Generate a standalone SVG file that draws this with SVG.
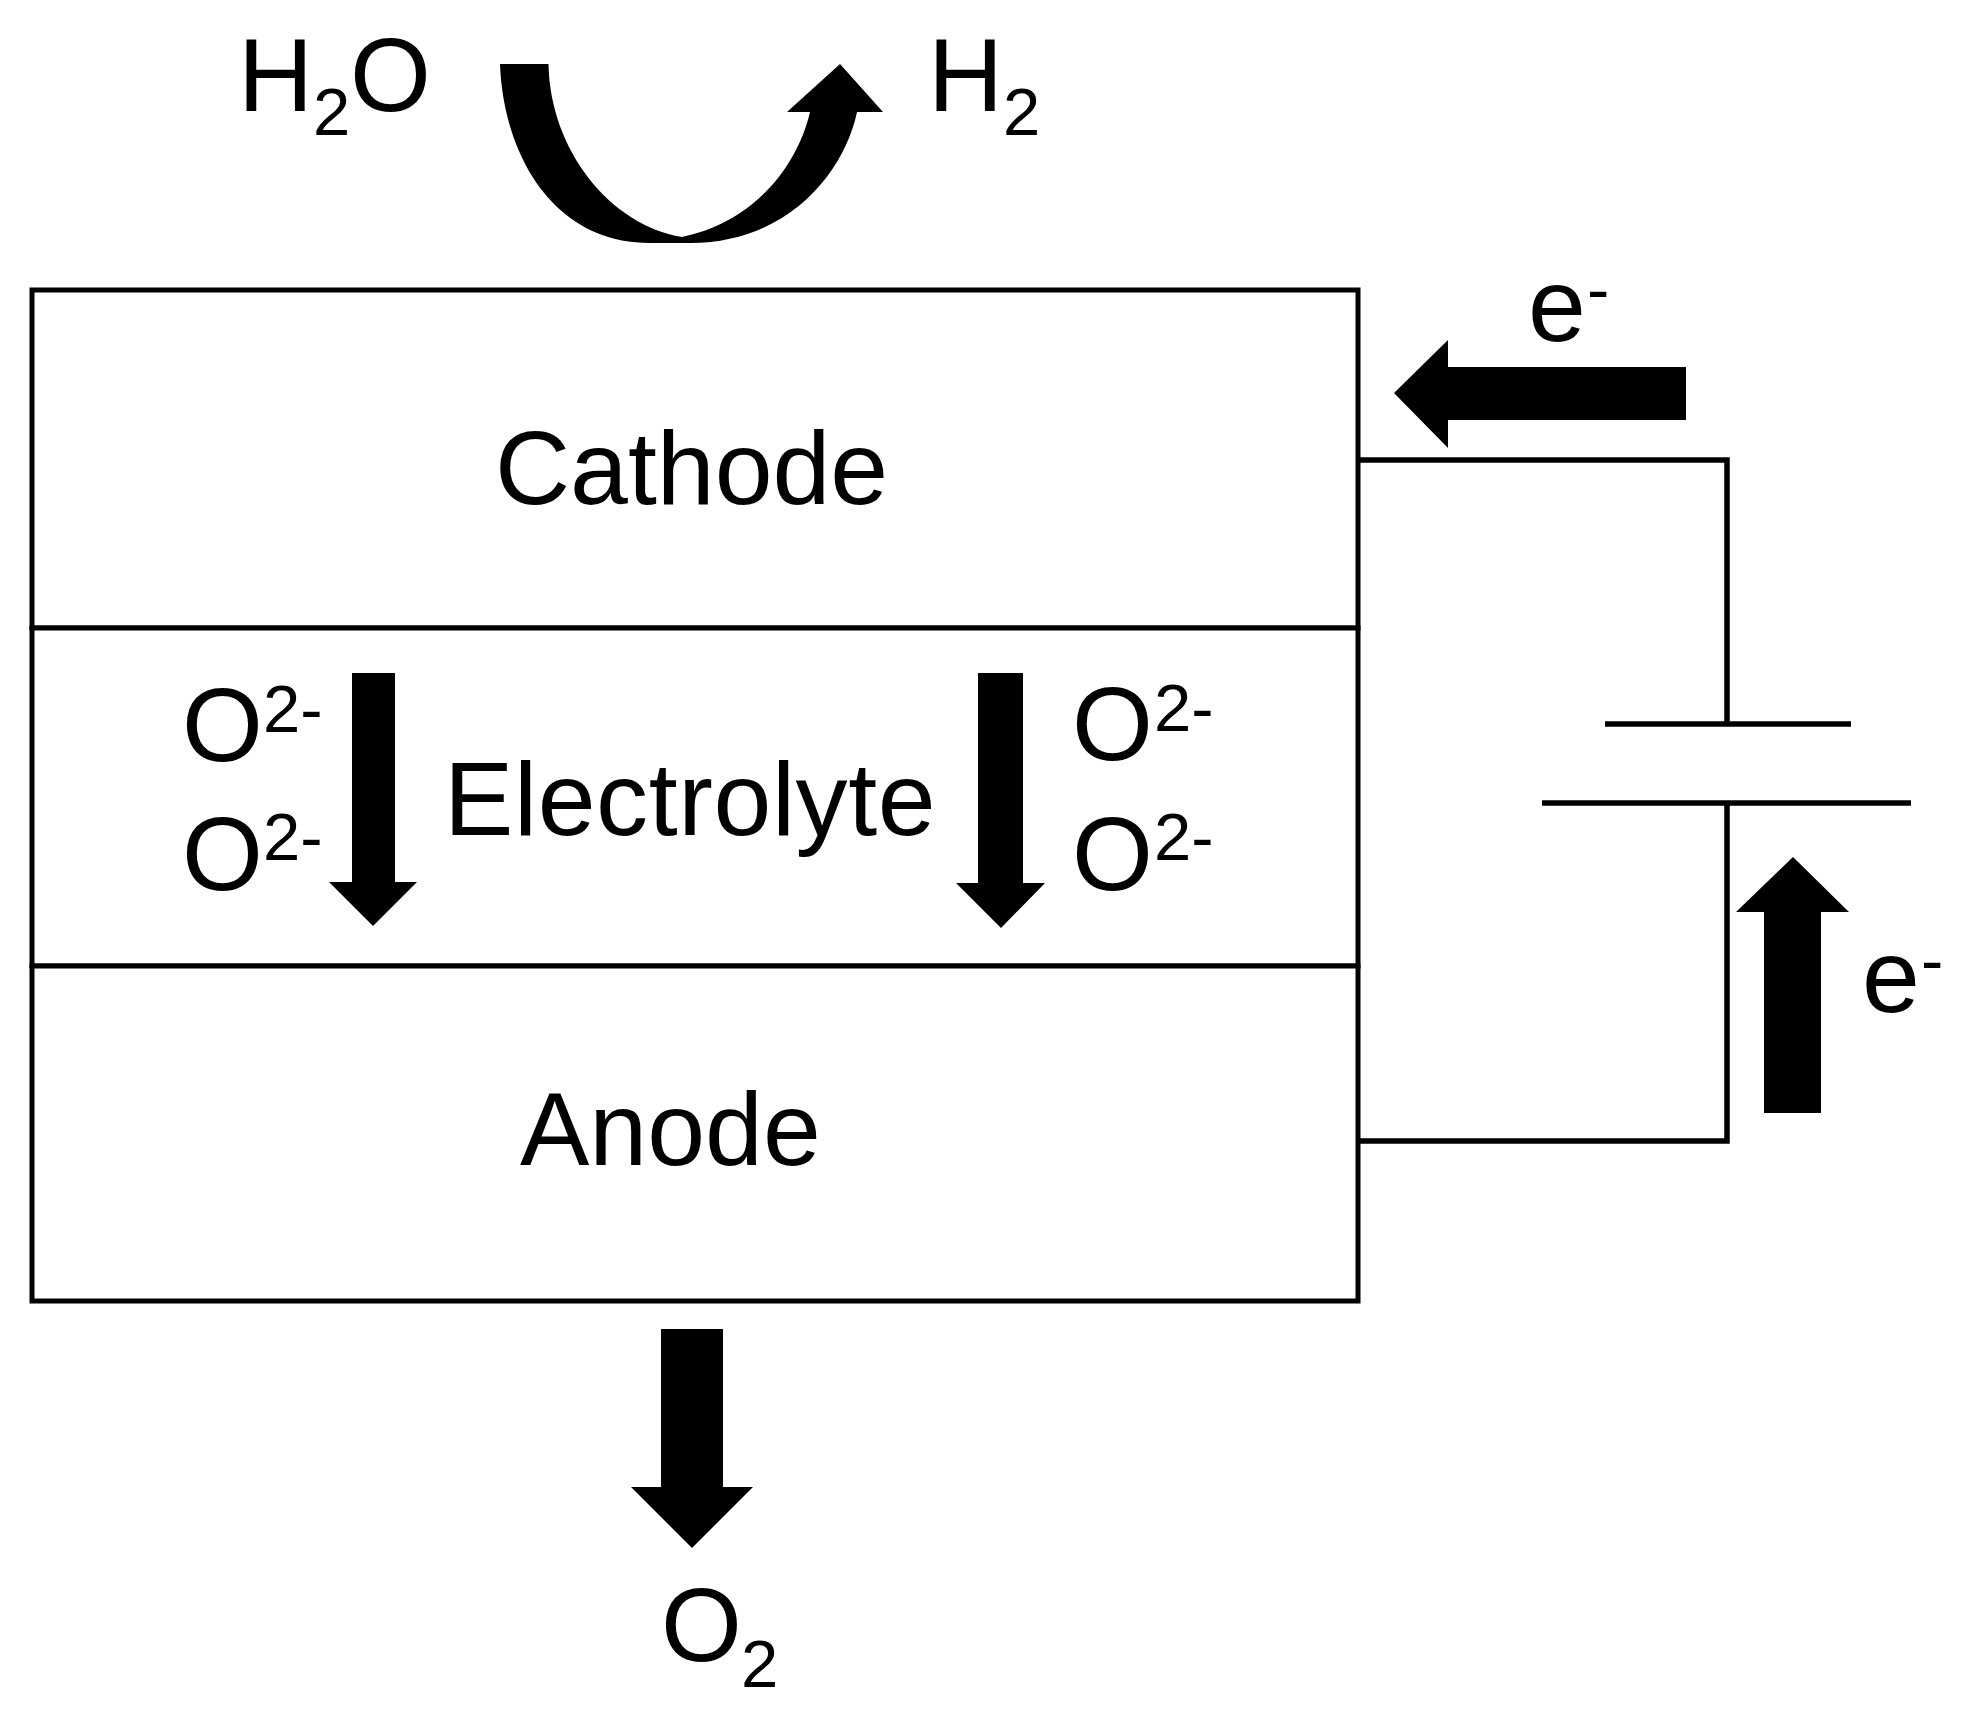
<svg xmlns="http://www.w3.org/2000/svg" width="1975" height="1726" viewBox="0 0 1975 1726">
<style>
text{font-family:"Liberation Sans",Arial,sans-serif;font-size:104px;fill:#000}
.s{font-size:67px}
.box{fill:#fff;stroke:#000;stroke-width:5}
.wire{fill:none;stroke:#000;stroke-width:5.5}
.ar{fill:#000;stroke:none}
</style>
<rect width="1975" height="1726" fill="#fff"/>
<g id="cathode"><rect class="box" x="32" y="290" width="1326" height="338"/><text x="495" y="504">Cathode</text></g>
<g id="electrolyte"><rect class="box" x="32" y="628" width="1326" height="338"/><text x="444" y="835" letter-spacing="0.6">Electrolyte</text>
<text x="182" y="761">O<tspan class="s" x="263" y="732">2-</tspan></text>
<text x="182" y="890">O<tspan class="s" x="263" y="860">2-</tspan></text>
<text x="1072" y="760">O<tspan class="s" x="1154" y="731">2-</tspan></text>
<text x="1072" y="890">O<tspan class="s" x="1154" y="860">2-</tspan></text></g>
<g id="anode"><rect class="box" x="32" y="966" width="1326" height="335"/><text x="520" y="1165">Anode</text></g>
<g id="battery">
<line class="wire" x1="1605" y1="724" x2="1851" y2="724"/>
<line class="wire" x1="1542" y1="803" x2="1911" y2="803"/>
</g>
<g id="labels">
<text x="238" y="111">H<tspan class="s" x="313" y="135">2</tspan><tspan x="350" y="111">O</tspan></text>
<text x="928" y="111">H<tspan class="s" x="1003" y="135">2</tspan></text>
<text x="661" y="1661">O<tspan class="s" x="741" y="1687">2</tspan></text>
<text x="1528" y="341">e<tspan class="s" x="1587" y="312">-</tspan></text>
<text x="1862" y="1012">e<tspan class="s" x="1921" y="983">-</tspan></text>
</g>
<g id="connectors">
<path class="wire" d="M1360,460H1727V724M1727,803V1141H1360"/>
<path class="ar" d="M500,64C503,150 550,243 650,243L690,243C790,243 845,170 857,112L883,112L840,64L787,112L810,112C796,172 748,224 682,237C610,225 550,150 548.5,64Z"/>
<polygon class="ar" points="1686,367 1448,367 1448,340 1394,393 1448,448 1448,420 1686,420"/>
<polygon class="ar" points="1764,1113 1764,912 1736,912 1793,857 1849,912 1821,912 1821,1113"/>
<polygon class="ar" points="352,673 395,673 395,882 417,882 373,926 329,882 352,882"/>
<polygon class="ar" points="978,673 1023,673 1023,883 1045,883 1001,928 956,883 978,883"/>
<polygon class="ar" points="661,1329 723,1329 723,1487 753,1487 692,1548 631,1487 661,1487"/>
</g>
</svg>
